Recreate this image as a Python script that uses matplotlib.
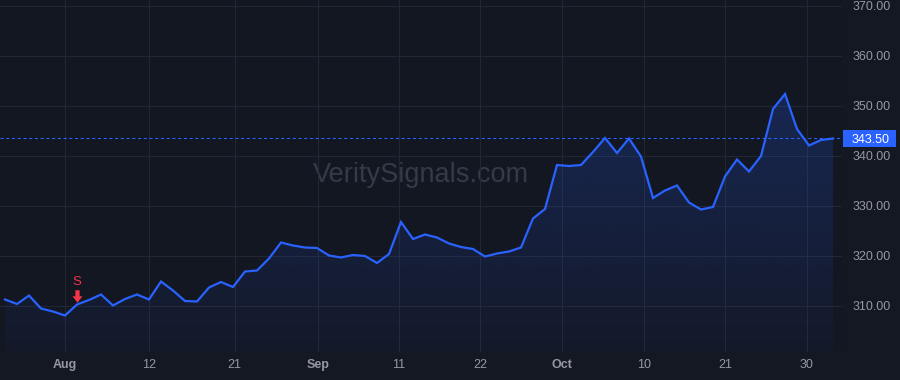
import numpy as np
import matplotlib
matplotlib.use("Agg")
import matplotlib.pyplot as plt
from matplotlib.path import Path
from matplotlib.patches import PathPatch, Rectangle
import matplotlib.transforms as mtransforms

# ---------------- data ----------------
prices = [
    311.3, 310.4, 312.1, 309.5, 308.9, 308.1, 310.3, 311.2, 312.3, 310.1,
    311.4, 312.3, 311.3, 314.9, 313.1, 311.0, 310.9, 313.7, 314.8, 313.8,
    316.9, 317.1, 319.5, 322.7, 322.1, 321.7, 321.6, 320.1, 319.7, 320.2,
    320.0, 318.6, 320.4, 326.8, 323.4, 324.3, 323.7, 322.5, 321.8, 321.4,
    319.9, 320.5, 320.9, 321.7, 327.5, 329.4, 338.2, 338.0, 338.2, 340.8,
    343.6, 340.6, 343.5, 339.9, 331.6, 333.1, 334.1, 330.7, 329.3, 329.8,
    335.9, 339.3, 336.9, 340.0, 349.4, 352.4, 345.4, 342.1, 343.2, 343.5,
]
tick_positions = [5.0, 12.03, 19.14, 26.06, 32.83, 39.61, 46.39, 53.25, 60.03, 66.81]
tick_labels = ["Aug", "12", "21", "Sep", "11", "22", "Oct", "10", "21", "30"]
month_labels = ["Aug", "Sep", "Oct"]
price_ticks = [310, 320, 330, 340, 350, 360, 370]
last_price = 343.50
signal_index = 6
signal_label = "S"
watermark = "VeritySignals.com"

# ---------------- style ----------------
BG = "#131722"
FIG_BG = "#141823"
GRID = "#232733"
BLUE = "#2962ff"
RED = "#f23645"
TXT = "#9598a1"
WM = "#363a46"

plt.rcParams["font.family"] = ["Liberation Sans", "DejaVu Sans"]

W, H = 900, 380
fig = plt.figure(figsize=(W / 100, H / 100), dpi=100, facecolor=FIG_BG)
ax = fig.add_axes([0, 28 / H, 842 / W, 352 / H])
ax.set_facecolor(BG)

x = np.arange(len(prices))
y = np.array(prices)
ymin, ymax = 300.8, 371.2

# gradient area fill
n = 256
grad = np.linspace(0, 1, n).reshape(-1, 1)
rgba = np.zeros((n, 1, 4))
rgba[..., :3] = matplotlib.colors.to_rgb(BLUE)
rgba[..., 3] = 0.035 + (0.22 - 0.035) * grad
im = ax.imshow(rgba, extent=[x[0], x[-1], ymin, y.max()], origin="lower",
               aspect="auto", zorder=1, interpolation="bilinear")
verts = [(x[0], ymin)] + list(zip(x, y)) + [(x[-1], ymin), (x[0], ymin)]
codes = [Path.MOVETO] + [Path.LINETO] * (len(verts) - 2) + [Path.CLOSEPOLY]
clip = PathPatch(Path(verts, codes), facecolor="none", edgecolor="none")
ax.add_patch(clip)
im.set_clip_path(clip)

# line
ax.plot(x, y, color=BLUE, lw=1.6, zorder=3, solid_joinstyle="miter")

# last price dotted line
ax.axhline(last_price, color=BLUE, lw=0.75, linestyle=(0, (3, 2.5)), zorder=2)

# limits
ax.set_xlim(-5 / 12, 837 / 12)
ax.set_ylim(ymin, ymax)

# grid & ticks
ax.set_xticks(tick_positions)
ax.set_xticklabels(tick_labels)
ax.set_yticks(price_ticks)
ax.set_yticklabels([f"{v:.2f}" for v in price_ticks])
ax.yaxis.tick_right()
ax.grid(True, color=GRID, lw=0.8, zorder=0)
ax.set_axisbelow(True)
for s in ax.spines.values():
    s.set_visible(False)
ax.tick_params(axis="y", length=0, pad=7.5, labelsize=9, labelcolor=TXT)
ax.tick_params(axis="x", length=0, pad=5, labelsize=9, labelcolor=TXT)
for lab in ax.get_xticklabels():
    if lab.get_text() in month_labels:
        lab.set_fontweight("bold")

# price label box
trans = mtransforms.blended_transform_factory(ax.transAxes, ax.transData)
box_h = 16.7 / 5.0
ax.add_patch(Rectangle((1.0 + 0.5 / 842, last_price - box_h / 2), 53 / 842, box_h,
                       transform=trans, facecolor=BLUE, edgecolor="none",
                       clip_on=False, zorder=5))
ax.text(1.0 + 10 / 842, last_price, f"{last_price:.2f}", transform=trans,
        ha="left", va="center_baseline", fontsize=9, color="white",
        zorder=6, clip_on=False)

# watermark
ax.text(0.5, (352 - 181.7) / 352, watermark, transform=ax.transAxes,
        ha="center", va="baseline", fontsize=19.5, color=WM, zorder=0.5)

# sell signal
arrow = Path([(-0.17, 0.5), (0.17, 0.5), (0.17, 0.02), (0.4, 0.02), (0.0, -0.5),
              (-0.4, 0.02), (-0.17, 0.02), (-0.17, 0.5)],
             [Path.MOVETO] + [Path.LINETO] * 6 + [Path.CLOSEPOLY])
off = mtransforms.offset_copy(ax.transData, fig=fig, x=0, y=8.5, units="dots")
ax.plot([x[signal_index]], [y[signal_index]], marker=arrow, markersize=9,
        color=RED, markeredgewidth=0, transform=off, zorder=4, linestyle="none")
ax.annotate(signal_label, xy=(x[signal_index], y[signal_index]),
            xytext=(0, 16.2), textcoords="offset points", ha="center",
            va="center", fontsize=9.5, color=RED, zorder=4)

fig.savefig("out.png", dpi=100, facecolor=FIG_BG)
